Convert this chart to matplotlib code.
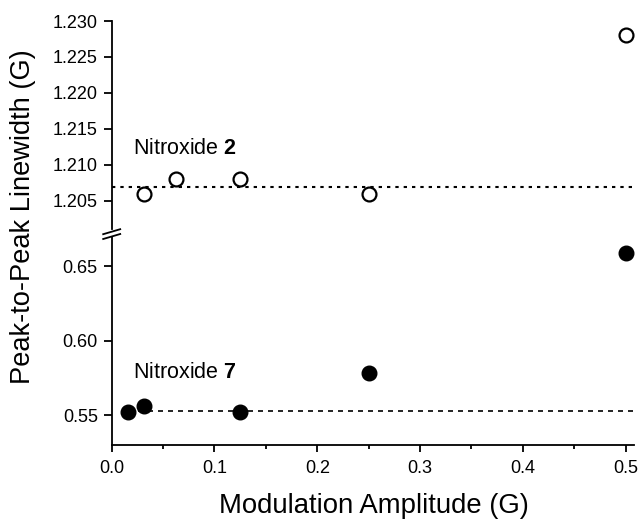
import matplotlib
matplotlib.use("Agg")
import matplotlib.pyplot as plt
import numpy as np

plt.rcParams['font.family'] = ['Liberation Sans', 'DejaVu Sans']
plt.rcParams['mathtext.fontset'] = 'custom'
plt.rcParams['mathtext.rm'] = 'Liberation Sans'
plt.rcParams['mathtext.bf'] = 'Liberation Sans:bold'

# Data
mod_amp_2 = [0.03125, 0.0625, 0.125, 0.25, 0.5]
width_2 = [1.206, 1.208, 1.208, 1.206, 1.228]
ref_2 = 1.207

mod_amp_7 = [0.015625, 0.03125, 0.125, 0.25, 0.5]
width_7 = [0.552, 0.556, 0.552, 0.578, 0.659]
ref_7 = 0.553

x_ticks = [0.0, 0.1, 0.2, 0.3, 0.4, 0.5]
upper_ticks = [1.205, 1.210, 1.215, 1.220, 1.225, 1.230]
lower_ticks = [0.55, 0.60, 0.65]

W, H = 641, 523
fig = plt.figure(figsize=(W / 100, H / 100), dpi=100)

left = 111.7 / W
right = 634.3 / W
up_top, up_bot = 21, 229
lo_top, lo_bot = 237, 445

ax_u = fig.add_axes([left, 1 - up_bot / H, right - left, (up_bot - up_top) / H])
ax_l = fig.add_axes([left, 1 - lo_bot / H, right - left, (lo_bot - lo_top) / H])

xlim = (0.0, 0.5084)
for ax in (ax_u, ax_l):
    ax.set_xlim(*xlim)
    ax.spines['top'].set_visible(False)
    ax.spines['right'].set_visible(False)
    for s in ('left', 'bottom'):
        ax.spines[s].set_linewidth(1.3)
    ax.tick_params(axis='y', direction='out', length=6, width=1.3, labelsize=13, pad=4)
    ax.tick_params(axis='x', direction='out', length=5, width=1.3, labelsize=13, pad=6)
    ax.tick_params(axis='x', which='minor', direction='out', length=3, width=1.3)

ax_u.spines['bottom'].set_visible(False)
ax_u.tick_params(axis='x', which='both', bottom=False, labelbottom=False)

ax_u.set_ylim(1.2011, 1.230)
ax_u.set_yticks(upper_ticks)
ax_u.set_yticklabels([f"{v:.3f}" for v in upper_ticks])

ax_l.set_ylim(0.53, 0.6695)
ax_l.set_yticks(lower_ticks)
ax_l.set_yticklabels([f"{v:.2f}" for v in lower_ticks])
ax_l.set_xticks(x_ticks)
ax_l.set_xticklabels([f"{v:.1f}" for v in x_ticks])
ax_l.set_xticks(np.arange(0.05, 0.5, 0.1), minor=True)

# reference lines
ax_u.plot([0.0, xlim[1]], [ref_2, ref_2], color='black', lw=1.5,
          linestyle=(0, (1.6, 2.4)), zorder=1)
ax_l.plot([mod_amp_7[0], xlim[1]], [ref_7, ref_7], color='black', lw=1.2,
          linestyle=(0, (3.0, 3.0)), zorder=1)

# data
ax_u.plot(mod_amp_2, width_2, 'o', ms=10, mfc='white', mec='black', mew=1.6,
          clip_on=False, zorder=3)
ax_l.plot(mod_amp_7, width_7, 'o', ms=10.5, mfc='black', mec='black', mew=1,
          clip_on=False, zorder=3)

ax_u.text(0.0207, 1.2115, r"Nitroxide $\mathbf{2}$", fontsize=15.5, va='baseline')
ax_l.text(0.0207, 0.5748, r"Nitroxide $\mathbf{7}$", fontsize=15.5, va='baseline')

# break marks
kw = dict(color='black', lw=1.3, clip_on=False)
axw = (right - left) * W
ax_u.plot([-8.5 / axw, 8.5 / axw],
          [-5.2 / (up_bot - up_top), -0.2 / (up_bot - up_top)],
          transform=ax_u.transAxes, **kw)
ax_l.plot([-8.5 / axw, 8.5 / axw],
          [1 - 2.0 / (lo_bot - lo_top), 1 + 3.0 / (lo_bot - lo_top)],
          transform=ax_l.transAxes, **kw)

fig.text(373.5 / W, 1 - 506 / H, "Modulation Amplitude (G)", fontsize=19.8,
         ha='center', va='center')
fig.text(23 / W, 1 - 216.5 / H, "Peak-to-Peak Linewidth (G)", fontsize=19.6,
         ha='center', va='center', rotation=90)

fig.savefig("out.png", dpi=100)
